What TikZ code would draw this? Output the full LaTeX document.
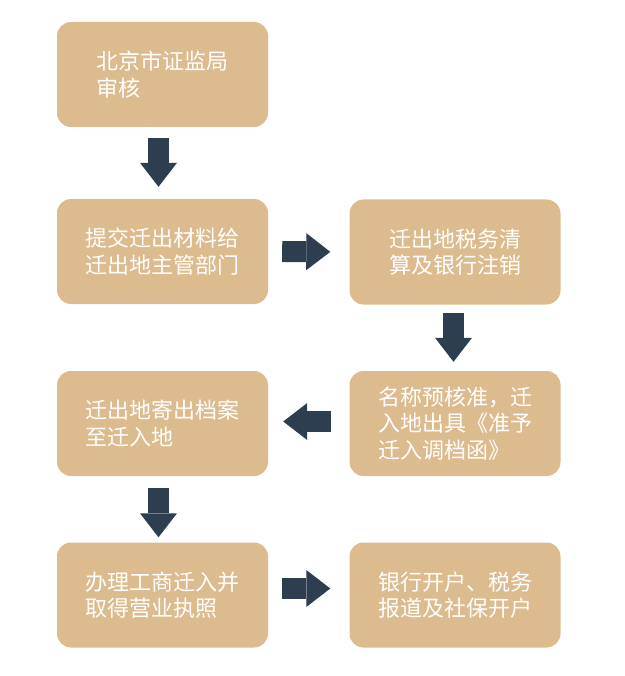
\documentclass[tikz,border=0pt]{standalone}
\usepackage{fontspec}
\setmainfont{Noto Sans CJK SC}
\usetikzlibrary{arrows.meta}
\definecolor{boxtan}{RGB}{220,187,142}
\definecolor{arrowslate}{RGB}{44,62,80}
\begin{document}
\begin{tikzpicture}[x=10pt,y=10pt]
                \tikzstyle{step box}=[fill=boxtan, rounded corners=14pt, minimum width=211pt, minimum height=105pt, inner sep=0pt, text=white, align=left, font=\fontsize{22}{26.5}\selectfont]
                \tikzstyle{block arrow}=[draw=arrowslate, line width=21pt, -{Triangle[width=37pt,length=24pt,line width=0pt]}]
                \useasboundingbox (0,0) rectangle (62.4,-67.6);
                \node [step box] (b1) at (16.25,-7.45) {北京市证监局\\审核};
                \node [step box] (b2) at (16.25,-25.15) {提交迁出材料给\\迁出地主管部门};
                \node [step box] (b3) at (45.5,-25.2) {迁出地税务清\\算及银行注销};
                \node [step box] (b4) at (45.5,-42.35) {名称预核准，迁\\入地出具《准予\\迁入调档函》};
                \node [step box] (b5) at (16.25,-42.35) {迁出地寄出档案\\至迁入地};
                \node [step box] (b6) at (16.25,-59.5) {办理工商迁入并\\取得营业执照};
                \node [step box] (b7) at (45.5,-59.5) {银行开户、税务\\报道及社保开户};
                \draw [block arrow, shorten <=11pt, shorten >=12pt] ([xshift=-4pt]b1.south) -- ([xshift=-4pt]b2.north);
                \draw [block arrow, shorten <=14pt, shorten >=19pt] (b2.east) -- (b3.west);
                \draw [block arrow, shorten <=8pt, shorten >=9pt] ([xshift=-1.5pt]b3.south) -- ([xshift=-1.5pt]b4.north);
                \draw [block arrow, shorten <=18pt, shorten >=15pt] ([yshift=2pt]b4.west) -- ([yshift=2pt]b5.east);
                \draw [block arrow, shorten <=12pt, shorten >=5pt] ([xshift=-4pt]b5.south) -- ([xshift=-4pt]b6.north);
                \draw [block arrow, shorten <=14pt, shorten >=19pt] ([yshift=6.5pt]b6.east) -- ([yshift=6.5pt]b7.west);
            \end{tikzpicture}
\end{document}
